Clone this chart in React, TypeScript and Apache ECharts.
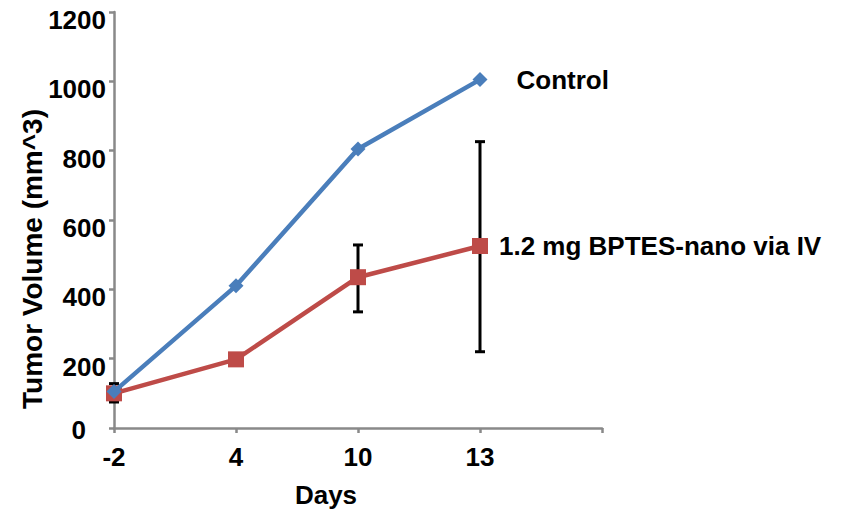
import React, { useEffect, useRef } from "react";
import * as echarts from "echarts";

const days = ["-2", "4", "10", "13", ""];
const controlValues = [105, 410, 805, 1005];
const treatedValues = [100, 198, 435, 525];
const treatedLow = [75, 198, 335, 220];
const treatedHigh = [128, 198, 528, 826];
const seriesNames = ["Control", "1.2 mg BPTES-nano via IV"];
const yTicks = [0, 200, 400, 600, 800, 1000, 1200];

const FONT = "'Liberation Sans', Arial, sans-serif";
const FS = 26;

export default function App() {
  const ref = useRef<HTMLDivElement>(null);
  useEffect(() => {
    if (!ref.current) return;
    const chart = echarts.init(ref.current, null, { renderer: "svg" });
    const lastIdx = controlValues.length - 1;
    const mkData = (vals: number[], labelDist: number) =>
      vals.map((v, i) =>
        i === lastIdx
          ? {
              value: v,
              label: {
                show: true,
                position: "right",
                distance: labelDist,
              },
            }
          : v
      );
    const tickText = {
      fontFamily: FONT,
      fontWeight: "bold",
      fontSize: FS,
      color: "#000",
    };
    chart.setOption({
      animation: false,
      backgroundColor: "#ffffff",
      grid: { left: 114, right: 242, top: 12, bottom: 82, containLabel: false },
      xAxis: {
        type: "category",
        data: days,
        boundaryGap: false,
        axisLine: { lineStyle: { color: "#898989", width: 2.5 } },
        axisTick: { show: true, length: 5, lineStyle: { color: "#898989", width: 2.5 } },
        axisLabel: {
          margin: 16,
          ...tickText,
        },
        splitLine: { show: false },
      },
      yAxis: {
        type: "value",
        min: yTicks[0],
        max: yTicks[yTicks.length - 1],
        interval: 200,
        axisLine: { show: true, lineStyle: { color: "#898989", width: 2.5 } },
        axisTick: { show: true, length: 5, lineStyle: { color: "#898989", width: 2.5 } },
        axisLabel: {
          margin: 8,
          ...tickText,
          formatter: (v: number) => (v === 0 ? "{z|0}" : "{a|" + v + "}"),
          rich: {
            z: { ...tickText, padding: [4, 20, 0, 0] },
            a: { ...tickText, padding: [16, 0, 0, 0] },
          },
        },
        splitLine: { show: false },
      },
      graphic: [
        {
          type: "text",
          x: 326,
          y: 495,
          style: {
            text: "Days",
            fontFamily: FONT,
            fontWeight: "bold",
            fontSize: FS,
            fill: "#000",
            align: "center",
            verticalAlign: "middle",
          },
        },
        {
          type: "text",
          x: 32,
          y: 259,
          rotation: Math.PI / 2,
          style: {
            text: "Tumor Volume (mm^3)",
            fontFamily: FONT,
            fontWeight: "bold",
            fontSize: 28,
            fill: "#000",
            align: "center",
            verticalAlign: "middle",
          },
        },
      ],
      series: [
        {
          type: "custom",
          name: "errors",
          z: 1,
          renderItem: (params: any, api: any) => {
            const x = api.value(0);
            const lo = api.coord([x, api.value(1)]);
            const hi = api.coord([x, api.value(2)]);
            const w = 5;
            const st = { stroke: "#000", lineWidth: 3 };
            return {
              type: "group",
              children: [
                { type: "line", shape: { x1: lo[0], y1: lo[1], x2: hi[0], y2: hi[1] }, style: st },
                { type: "line", shape: { x1: lo[0] - w, y1: lo[1], x2: lo[0] + w, y2: lo[1] }, style: st },
                { type: "line", shape: { x1: hi[0] - w, y1: hi[1], x2: hi[0] + w, y2: hi[1] }, style: st },
              ],
            };
          },
          data: treatedLow
            .map((lo, i) => [i, lo, treatedHigh[i]])
            .filter((d) => d[2] - d[1] > 1),
        },
        {
          type: "line",
          name: seriesNames[0],
          data: mkData(controlValues, 29),
          symbol: "diamond",
          symbolSize: 15,
          z: 3,
          lineStyle: { color: "#4a7ebb", width: 4.5 },
          itemStyle: { color: "#4a7ebb" },
          label: {
            show: false,
            formatter: seriesNames[0],
            ...tickText,
          },
        },
        {
          type: "line",
          name: seriesNames[1],
          data: mkData(treatedValues, 11),
          symbol: "rect",
          symbolSize: 16,
          z: 2,
          lineStyle: { color: "#be4b48", width: 4.5 },
          itemStyle: { color: "#be4b48" },
          label: {
            show: false,
            formatter: seriesNames[1],
            ...tickText,
          },
        },
      ],
    });
    return () => chart.dispose();
  }, []);
  return (
    <div
      ref={ref}
      style={{ width: 844, height: 510, position: "absolute", left: 0, top: 0 }}
    />
  );
}
